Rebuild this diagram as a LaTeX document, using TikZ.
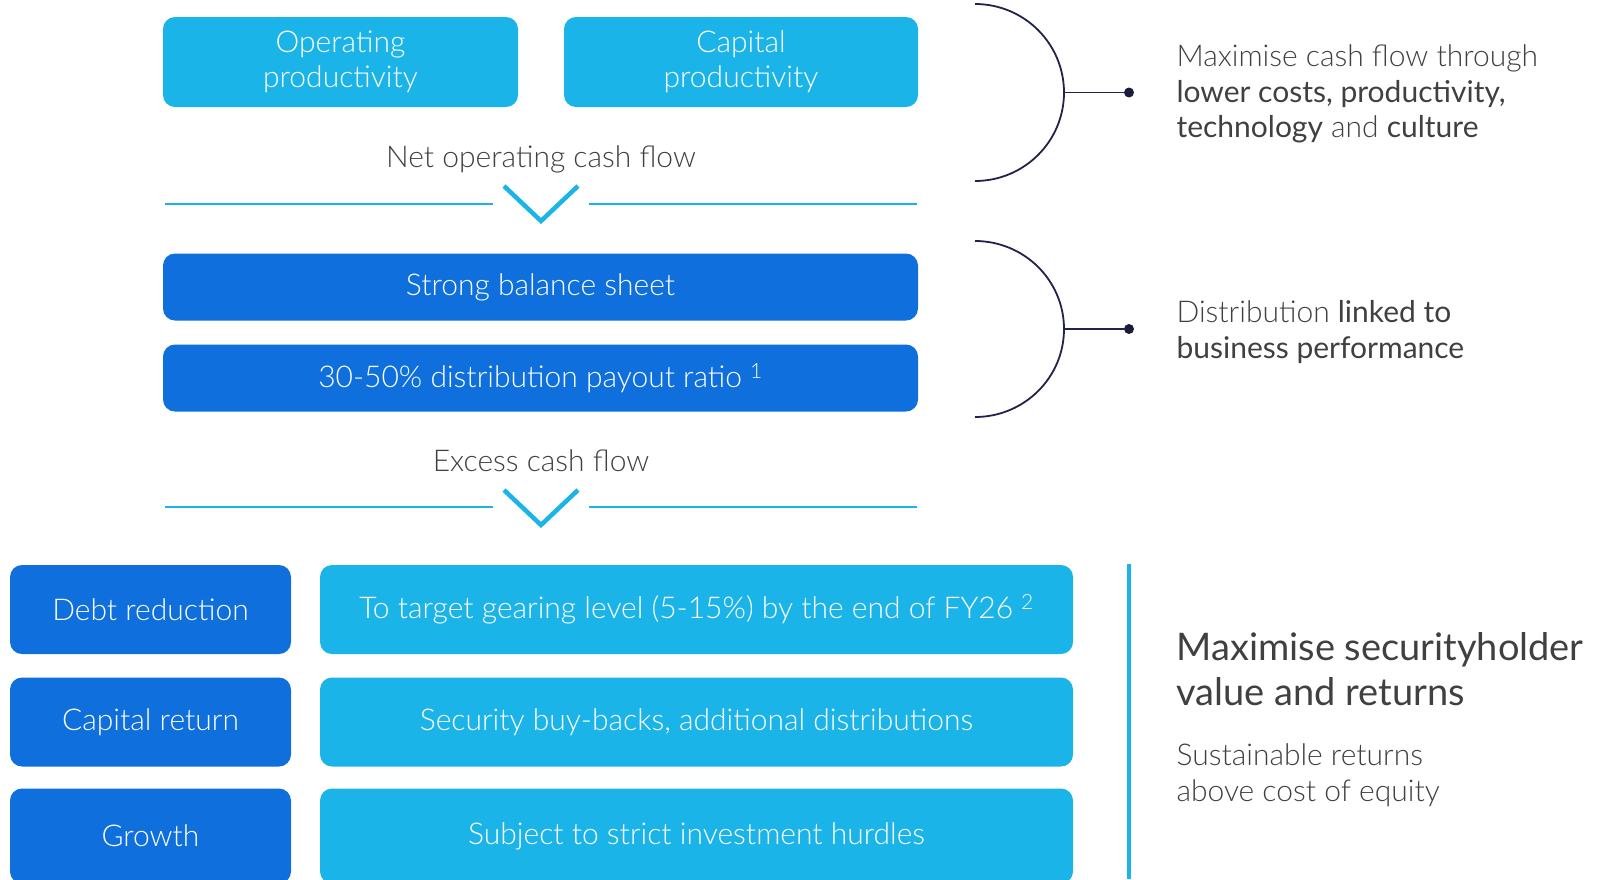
\documentclass[tikz,border=0pt]{standalone}
\usepackage{fontspec}
\setmainfont{Lato}
\newfontfamily\lightfont{Lato Light}
\newfontfamily\regfont{Lato}
\usetikzlibrary{positioning}

\definecolor{skyblue}{HTML}{1BB4E9}
\definecolor{deepblue}{HTML}{0E6FDD}
\definecolor{inkgrey}{HTML}{404040}
\definecolor{navyline}{HTML}{22224A}

\tikzset{
	lightbox/.style={fill=skyblue, rounded corners=12pt, text=white, align=center, font=\lightfont\fontsize{30}{35}\selectfont, inner sep=0pt},
	darkbox/.style={fill=deepblue, rounded corners=12pt, text=white, align=center, font=\lightfont\fontsize{30}{35}\selectfont, inner sep=0pt},
	flowlabel/.style={text=inkgrey, font=\lightfont\fontsize{30}{35}\selectfont},
	sidetext/.style={text=inkgrey, anchor=west, align=left, font=\lightfont\fontsize{30}{35.5}\selectfont},
	rule/.style={skyblue, line width=2pt},
	chevron/.style={skyblue, line width=4.5pt},
	bracket/.style={navyline, line width=1.8pt},
	dotnode/.style={circle, fill=navyline!80!black, inner sep=0pt, minimum size=10pt}
}

\begin{document}
\begin{tikzpicture}[x=1pt, y=-1pt]
\useasboundingbox (0,0) rectangle (1601,879);

\node[lightbox, minimum width=355pt, minimum height=90pt] (opprod) at (340.5,62) {Operating\\productivity};
\node[lightbox, minimum width=354pt, minimum height=90pt] (capprod) at (741,62) {Capital\\productivity};
\node[flowlabel] (netcash) at (541,159) {Net operating cash flow};

\coordinate (l1a) at (165,204); \coordinate (l1b) at (493,204);
\coordinate (r1a) at (589,204); \coordinate (r1b) at (917,204);
\coordinate (v1a) at (504,186); \coordinate (v1m) at (541,221); \coordinate (v1b) at (578,186);
\draw[rule] (l1a) -- (l1b);
\draw[rule] (r1a) -- (r1b);
\draw[chevron] (v1a) -- (v1m) -- (v1b);

\node[darkbox, minimum width=755pt, minimum height=67pt] (balance) at (540.5,287) {Strong balance sheet};
\node[darkbox, minimum width=755pt, minimum height=67pt] (payout) at (540.5,378) {30-50\% distribution payout ratio \textsuperscript{1}};
\node[flowlabel] (excess) at (541,461) {Excess cash flow};

\coordinate (l2a) at (165,507); \coordinate (l2b) at (493,507);
\coordinate (r2a) at (589,507); \coordinate (r2b) at (917,507);
\coordinate (v2a) at (504,490); \coordinate (v2m) at (541,525); \coordinate (v2b) at (578,490);
\draw[rule] (l2a) -- (l2b);
\draw[rule] (r2a) -- (r2b);
\draw[chevron] (v2a) -- (v2m) -- (v2b);

\node[darkbox, minimum width=281pt, minimum height=89pt] (debt) at (150.5,609.5) {Debt reduction};
\node[darkbox, minimum width=281pt, minimum height=89pt] (capret) at (150.5,722) {Capital return};
\node[darkbox, minimum width=281pt, minimum height=95pt] (growth) at (150.5,836) {Growth};
\node[lightbox, minimum width=753pt, minimum height=89pt] (gearing) at (696.5,609.5) {To target gearing level (5-15\%) by the end of FY26 \textsuperscript{2}};
\node[lightbox, minimum width=753pt, minimum height=89pt] (buyback) at (696.5,722) {Security buy-backs, additional distributions};
\node[lightbox, minimum width=753pt, minimum height=95pt] (hurdles) at (696.5,836) {Subject to strict investment hurdles};

% brackets on the right
\coordinate (b1top) at (975,4);
\coordinate (b1tip) at (1064,92.5);
\coordinate (b2top) at (975,241);
\coordinate (b2tip) at (1064,329);
\draw[bracket] (b1top) arc[start angle=-90, end angle=90, x radius=89, y radius=88.5];
\draw[bracket] (b2top) arc[start angle=-90, end angle=90, x radius=89, y radius=88];
\node[dotnode] (dot1) at (1129,92.5) {};
\node[dotnode] (dot2) at (1129,329) {};
\draw[bracket] (b1tip) -- (dot1);
\draw[bracket] (b2tip) -- (dot2);

\node[sidetext] (cashtext) at (1173,94) {Maximise cash flow through\\{\regfont lower costs, productivity,}\\{\regfont technology} and {\regfont culture}};
\node[sidetext] (disttext) at (1173,332) {Distribution {\regfont linked to}\\{\regfont business performance}};

\coordinate (vtop) at (1129,564);
\coordinate (vbot) at (1129,879);
\draw[skyblue, line width=3.5pt] (vtop) -- (vbot);

\node[sidetext, font=\regfont\fontsize{38}{45}\selectfont] (valuehead) at (1173,669) {Maximise securityholder\\value and returns};
\node[sidetext] (susttext) at (1173,775) {Sustainable returns\\above cost of equity};
\end{tikzpicture}
\end{document}
